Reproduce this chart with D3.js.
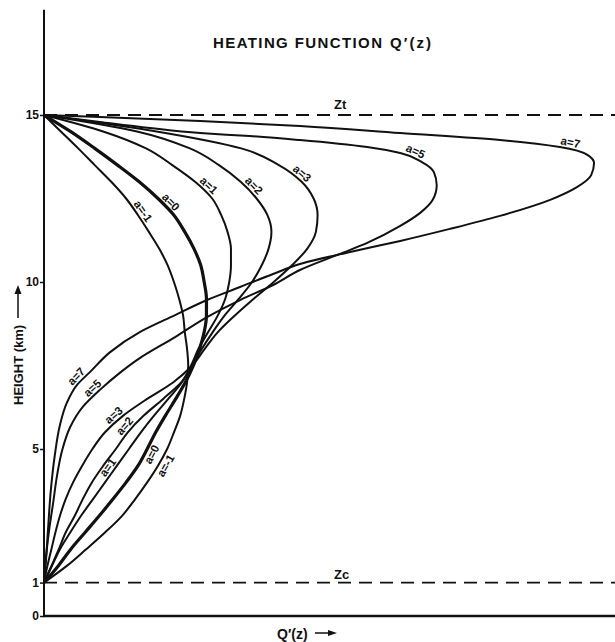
<!DOCTYPE html>
<html>
<head>
<meta charset="utf-8">
<script src="https://cdn.jsdelivr.net/npm/d3@7"></script>
<style>
  html, body { margin: 0; padding: 0; background: #fff; }
  svg { display: block; }
  text { font-family: "Liberation Sans", Arial, sans-serif; font-weight: bold; fill: #111; }
</style>
</head>
<body>
<svg id="chart" width="615" height="642"></svg>
<script>
// ---------------- data ----------------
// heights (km) at which Q'(z) was read off the figure
const heights = [1,1.5,2,2.5,3,3.5,4,4.5,5,5.5,6,6.5,7,7.5,8,8.5,9,9.5,10,10.5,11,11.5,12,12.5,13,13.5,14,14.5,15];

// Q'(z) (arbitrary units, 0-100) for each shape parameter a, at the heights above
const qAm1 = [0,4.0,7.4,10.7,13.7,16.0,18.1,20.0,21.6,22.8,23.9,24.6,25.1,25.3,25.1,24.7,24.4,23.7,22.8,21.7,20.2,18.4,16.5,14.4,11.8,8.9,6.0,3.0,0];
const qA0  = [0,2.5,4.7,7.2,9.7,12.1,14.4,16.5,18.1,19.6,21.3,23.1,24.8,26.2,27.3,28.1,28.5,28.5,28.1,27.5,26.3,24.7,22.8,20.0,16.7,12.9,8.9,4.7,0];
const qA1  = [0,1.4,2.8,4.6,6.5,8.6,10.7,12.8,14.9,17.0,19.3,21.8,24.2,25.8,27.1,28.8,30.5,31.8,32.5,32.8,32.8,32.2,31.1,29.5,26.5,22.5,17.9,10.5,0];
const qA2  = [0,1.3,2.6,3.8,5.4,6.8,8.4,10.4,12.6,14.7,17.5,20.9,24.1,26.0,27.7,29.6,31.7,34.2,36.5,38.2,39.4,39.9,39.2,37.3,34.5,30.7,25.6,16.5,0];
const qA3  = [0,0.6,1.3,2.0,2.8,3.8,5.1,6.7,8.5,10.7,13.9,18.1,22.7,26.0,28.2,30.5,33.5,36.8,40.3,43.5,46.2,47.7,48.0,47.3,45.2,41.2,34.6,20.0,0];

// a=5 and a=7 are read at their own heights (very flat near the top)
const zA5 = [1,1.77,2.57,3.38,4.22,4.97,5.66,6.26,6.77,7.28,7.72,8.35,8.95,9.46,9.91,10.36,10.84,11.17,11.68,12.07,12.46,12.90,13.29,13.59,13.86,14.04,14.25,14.37,14.46,14.61,14.79,15];
const qA5 = [0,0.35,0.9,1.6,2.3,3.2,4.6,6.8,9.8,13.3,16.8,23.0,28.6,34.4,40.2,44.9,51.9,56.7,62.5,66.0,68.2,68.9,68.4,66.3,62.5,56.7,44.9,36.1,27.4,18.6,9.8,0];
const zA7 = [1,1.68,2.57,3.77,4.82,5.72,6.38,6.92,7.31,7.90,8.50,9.01,9.46,9.85,10.24,10.54,10.90,11.23,11.59,11.98,12.46,12.84,13.20,13.56,13.80,14.04,14.25,14.46,14.67,14.82,14.94,15];
const qA7 = [0,0.35,0.7,1.2,1.9,2.8,4.0,5.8,8.1,11.6,16.8,23.0,28.6,34.4,40.2,44.9,53.7,62.5,71.2,80.0,88.8,93.5,96.0,96.5,95.4,90.5,80.0,62.5,44.9,27.4,9.8,0];

const seriesNames = ["a=-1","a=0","a=1","a=2","a=3","a=5","a=7"];

// tick labels and reference levels
const yTicks = [0,1,5,10,15];
const levelNames = ["Zc","Zt"];
const levelHeights = [1,15];

// curve labels: text, approximate centre (Q, z), side of the curve (+1 outer / -1 inner)
const labelText = ["a=-1","a=0","a=1","a=2","a=3","a=5","a=7","a=7","a=5","a=3","a=2","a=1","a=0","a=-1"];
const labelQ    = [16.3,21.8,28.1,36.8,44.9,64.9,92.3, 6.3, 9.1,11.8,14.9,10.7,18.4,20.5];
const labelZ    = [12.0,12.31,12.75,12.87,13.17,13.80,14.16, 7.07,6.71,6.11,5.57,4.52,4.88,4.58];
const labelSide = [1,1,1,1,1,1,1, 1,1,1,1,1,-1,-1];

// ---------------- build ----------------
const svg = d3.select("#chart");
const x = d3.scaleLinear().domain([0,100]).range([44,614]);
const y = d3.scaleLinear().domain([0,15]).range([616,115]);
const ink = "#111";

const series = [
  {name:"a=-1", pts: heights.map((z,i)=>[z,qAm1[i]]), w:2.0},
  {name:"a=0",  pts: heights.map((z,i)=>[z,qA0[i]]),  w:3.2},
  {name:"a=1",  pts: heights.map((z,i)=>[z,qA1[i]]),  w:2.0},
  {name:"a=2",  pts: heights.map((z,i)=>[z,qA2[i]]),  w:2.0},
  {name:"a=3",  pts: heights.map((z,i)=>[z,qA3[i]]),  w:2.0},
  {name:"a=5",  pts: zA5.map((z,i)=>[z,qA5[i]]),      w:2.0},
  {name:"a=7",  pts: zA7.map((z,i)=>[z,qA7[i]]),      w:2.0}
];

const line = d3.line()
  .x(d => x(d[1]))
  .y(d => y(d[0]))
  .curve(d3.curveMonotoneY);

// reference dashed levels
svg.selectAll("line.level").data(levelHeights).enter().append("line")
  .attr("class","level")
  .attr("x1", x(0)).attr("x2", 615)
  .attr("y1", d => y(d)).attr("y2", d => y(d))
  .attr("stroke", ink).attr("stroke-width", 1.9)
  .attr("stroke-dasharray", "13,8");

svg.selectAll("text.levelname").data(levelNames).enter().append("text")
  .attr("class","levelname")
  .attr("x", 334)
  .attr("y", (d,i) => y(levelHeights[i]) - (i === 1 ? 6 : 4))
  .attr("font-size", 13)
  .text(d => d);

// curves
const paths = svg.selectAll("path.curve").data(series).enter().append("path")
  .attr("class","curve")
  .attr("d", d => line(d.pts))
  .attr("fill","none")
  .attr("stroke", ink)
  .attr("stroke-width", d => d.w)
  .attr("stroke-linejoin","round");

const pathByName = {};
paths.each(function(d){ pathByName[d.name] = this; });

// curve labels, aligned with their curve and set just beside it
labelText.forEach((t, i) => {
  const node = pathByName[t];
  const cx = x(labelQ[i]), cy = y(labelZ[i]);
  const L = node.getTotalLength();
  let best = 0, bestD = Infinity;
  for (let s = 0; s <= L; s += 0.5) {
    const p = node.getPointAtLength(s);
    const dd = (p.x-cx)*(p.x-cx) + (p.y-cy)*(p.y-cy);
    if (dd < bestD) { bestD = dd; best = s; }
  }
  const p = node.getPointAtLength(best);
  const a = node.getPointAtLength(Math.max(0, best-4));
  const b = node.getPointAtLength(Math.min(L, best+4));
  let tx = b.x - a.x, ty = b.y - a.y;
  if (tx < 0) { tx = -tx; ty = -ty; }
  const n = Math.hypot(tx, ty) || 1; tx /= n; ty /= n;
  const ux = ty, uy = -tx;            // "up" direction of the text
  const off = 6.5 * labelSide[i];
  const px = p.x + ux*off, py = p.y + uy*off;
  const ang = Math.atan2(ty, tx) * 180 / Math.PI;
  svg.append("text")
    .attr("class","clabel")
    .attr("text-anchor","middle")
    .attr("dominant-baseline","central")
    .attr("font-size", 11.5)
    .attr("transform", `translate(${px},${py}) rotate(${ang})`)
    .text(t);
});

// axes
const yAxis = d3.axisLeft(y).tickValues(yTicks).tickSize(4).tickPadding(1).tickFormat(d3.format("d"));
const gy = svg.append("g").attr("transform", `translate(${x(0)},0)`).call(yAxis);
gy.select(".domain").remove();
gy.selectAll(".tick line").attr("stroke", ink).attr("stroke-width", 1.5);
gy.selectAll(".tick text").attr("font-size", 12).attr("font-family", '"Liberation Sans", Arial, sans-serif').attr("font-weight","bold").attr("fill", ink);

svg.append("line")
  .attr("x1", x(0)).attr("x2", x(0))
  .attr("y1", y(0) + 1).attr("y2", y(18.15))
  .attr("stroke", ink).attr("stroke-width", 2);
svg.append("line")
  .attr("x1", x(0) - 1).attr("x2", 615)
  .attr("y1", y(0)).attr("y2", y(0))
  .attr("stroke", ink).attr("stroke-width", 2.5);

// title
svg.append("text").attr("x", 213).attr("y", 48).attr("font-size", 15)
  .attr("textLength", 169).attr("lengthAdjust","spacing")
  .text("HEATING FUNCTION");
svg.append("text").attr("x", 390).attr("y", 48).attr("font-size", 15)
  .attr("textLength", 41).attr("lengthAdjust","spacing")
  .text("Q′(z)");

// y axis title with arrow
svg.append("text")
  .attr("transform", "translate(23,405) rotate(-90)")
  .attr("font-size", 13)
  .text("HEIGHT (km)");
svg.append("line").attr("x1", 18).attr("x2", 18).attr("y1", 318).attr("y2", 292)
  .attr("stroke", ink).attr("stroke-width", 1.5);
svg.append("path").attr("d", "M14.5,294 L18,285 L21.5,294 Z").attr("fill", ink);

// x axis title with arrow
svg.append("text").attr("x", 277).attr("y", 639).attr("font-size", 14).text("Q′(z)");
svg.append("line").attr("x1", 315).attr("x2", 330).attr("y1", 633).attr("y2", 633)
  .attr("stroke", ink).attr("stroke-width", 1.5);
svg.append("path").attr("d", "M328,630 L337,633 L328,636 Z").attr("fill", ink);
</script>
</body>
</html>
